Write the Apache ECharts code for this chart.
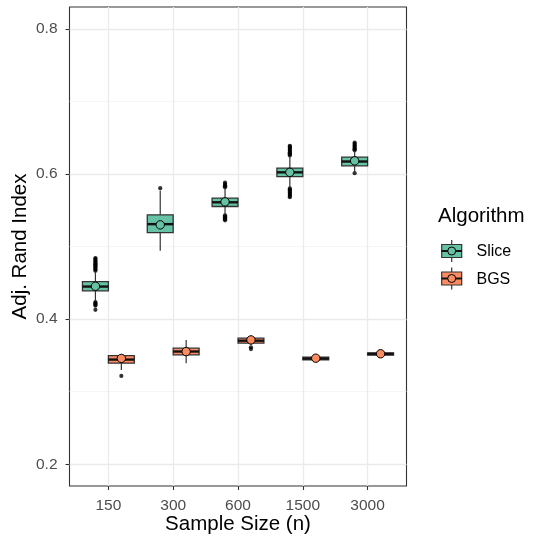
<!DOCTYPE html>
<html>
<head>
<meta charset="utf-8">
<script src="https://cdn.jsdelivr.net/npm/echarts@6/dist/echarts.min.js"></script>
<style>
  html, body { margin: 0; padding: 0; background: #ffffff; }
  #chart { width: 534px; height: 541px; }
</style>
</head>
<body>
<div id="chart"></div>
<script>
// Sample-size groups and algorithms
const categories = ['150', '300', '600', '1500', '3000'];
const algorithms = ['Slice', 'BGS'];
const yTicks = [0.2, 0.4, 0.6, 0.8];
const yMinorTicks = [0.3, 0.5, 0.7];

// Box statistics per group: [lower whisker, Q1, median, Q3, upper whisker]
const sliceStats = [
  [0.4250, 0.4389, 0.4448, 0.4517, 0.4650],
  [0.4940, 0.5192, 0.5308, 0.5436, 0.5770],
  [0.5445, 0.5551, 0.5609, 0.5666, 0.5804],
  [0.5815, 0.5964, 0.6022, 0.6080, 0.6240],
  [0.6033, 0.6112, 0.6171, 0.6232, 0.6309]
];
const sliceMeans = [0.4452, 0.5298, 0.5615, 0.6022, 0.6180];
const sliceOutliers = [
  [0.4665, 0.4680, 0.4695, 0.4710, 0.4725, 0.4740, 0.4755, 0.4770, 0.4785, 0.4800, 0.4815, 0.4830, 0.4840,
   0.4235, 0.4222, 0.4210, 0.4197, 0.4185, 0.4127],
  [0.5804],
  [0.5815, 0.5830, 0.5845, 0.5860, 0.5880,
   0.5430, 0.5417, 0.5403, 0.5390, 0.5375, 0.5360],
  [0.6255, 0.6270, 0.6285, 0.6300, 0.6315, 0.6330, 0.6345, 0.6360, 0.6375, 0.6387,
   0.5800, 0.5785, 0.5770, 0.5755, 0.5740, 0.5725, 0.5710, 0.5695, 0.5680],
  [0.6325, 0.6340, 0.6355, 0.6370, 0.6385, 0.6400, 0.6415, 0.6433, 0.6011]
];

const bgsStats = [
  [0.3300, 0.3392, 0.3442, 0.3497, 0.3505],
  [0.3392, 0.3507, 0.3553, 0.3599, 0.3713],
  [0.3640, 0.3668, 0.3702, 0.3737, 0.3755],
  [0.3417, 0.3438, 0.3456, 0.3475, 0.3500],
  [0.3495, 0.3505, 0.3520, 0.3535, 0.3545]
];
const bgsMeans = [0.3458, 0.3552, 0.3713, 0.3461, 0.3522];
const bgsOutliers = [[0.3217], [], [0.3612, 0.3587], [], []];

// Styling
const FONT = "'Liberation Sans', Arial, Helvetica, sans-serif";
const fills = ['#66C2A5', '#FC8D62'];
const dodge = [-0.2, 0.2];      // horizontal offset of each algorithm within a group
const BOX_WIDTH = 0.4;          // box width in category units
const EDGE = '#333333';

function boxRows(stats, means, offset) {
  return stats.map((s, i) => [i + offset].concat(s, [means[i]]));
}
function outlierRows(outliers, offset) {
  const rows = [];
  outliers.forEach((vals, i) => vals.forEach(v => rows.push([i + offset, v])));
  return rows;
}

function renderBox(fill) {
  return function (params, api) {
    const x = api.value(0);
    const lo = api.coord([x, api.value(1)]);
    const q1 = api.coord([x, api.value(2)]);
    const med = api.coord([x, api.value(3)]);
    const q3 = api.coord([x, api.value(4)]);
    const hi = api.coord([x, api.value(5)]);
    const mean = api.coord([x, api.value(6)]);
    const w = api.size([BOX_WIDTH, 0])[0];
    const cx = med[0];
    return {
      type: 'group',
      children: [
        { type: 'line', shape: { x1: cx, y1: q3[1], x2: cx, y2: hi[1] }, style: { stroke: EDGE, lineWidth: 1.2 } },
        { type: 'line', shape: { x1: cx, y1: q1[1], x2: cx, y2: lo[1] }, style: { stroke: EDGE, lineWidth: 1.2 } },
        { type: 'rect', shape: { x: cx - w / 2, y: q3[1], width: w, height: q1[1] - q3[1] },
          style: { fill: fill, stroke: EDGE, lineWidth: 1.3 } },
        { type: 'line', shape: { x1: cx - w / 2, y1: med[1], x2: cx + w / 2, y2: med[1] },
          style: { stroke: '#111111', lineWidth: 2.4 } },
        { type: 'circle', shape: { cx: cx, cy: mean[1], r: 4.2 },
          style: { fill: fill, stroke: '#000000', lineWidth: 1 }, z2: 10 }
      ]
    };
  };
}

const series = [];
const allStats = [sliceStats, bgsStats];
const allMeans = [sliceMeans, bgsMeans];
const allOutliers = [sliceOutliers, bgsOutliers];
algorithms.forEach((name, k) => {
  series.push({
    name: name + ' outliers',
    type: 'scatter',
    z: 2,
    symbol: 'circle',
    symbolSize: 4.2,
    itemStyle: { color: '#000000' },
    silent: true,
    data: outlierRows(allOutliers[k], dodge[k])
  });
  series.push({
    name: name,
    type: 'custom',
    z: 3,
    silent: true,
    renderItem: renderBox(fills[k]),
    encode: { x: 0, y: [1, 2, 3, 4, 5, 6] },
    data: boxRows(allStats[k], allMeans[k], dodge[k])
  });
});

// Legend drawn as ggplot-style boxplot keys
const legendGraphics = [{
  type: 'text', left: 438, top: 206,
  style: { text: 'Algorithm', fontSize: 20.5, fontFamily: FONT, fill: '#000000' }
}];
algorithms.forEach((name, k) => {
  const cx = 451.7, cy = 251 + k * 27.5;
  legendGraphics.push(
    { type: 'line', shape: { x1: cx, y1: cy - 11, x2: cx, y2: cy + 11 }, style: { stroke: EDGE, lineWidth: 1.2 } },
    { type: 'rect', shape: { x: cx - 10, y: cy - 6.5, width: 20, height: 13 }, style: { fill: fills[k], stroke: EDGE, lineWidth: 1.2 } },
    { type: 'line', shape: { x1: cx - 10, y1: cy, x2: cx + 10, y2: cy }, style: { stroke: '#111111', lineWidth: 2 } },
    { type: 'circle', shape: { cx: cx, cy: cy, r: 4 }, style: { fill: fills[k], stroke: '#000000', lineWidth: 1 } },
    { type: 'text', x: 476.5, y: cy + 1,
      style: { text: name, fontSize: 16, fontFamily: FONT, fill: '#000000', textVerticalAlign: 'middle', verticalAlign: 'middle' } }
  );
});

const chart = echarts.init(document.getElementById('chart'), null, { renderer: 'canvas' });
chart.setOption({
  animation: false,
  backgroundColor: '#ffffff',
  grid: {
    left: 69.5, right: 127.5, top: 7, bottom: 55,
    show: true, borderColor: EDGE, borderWidth: 1.1, backgroundColor: 'transparent',
    containLabel: false, outerBoundsMode: 'none'
  },
  xAxis: {
    type: 'value', min: -0.6, max: 4.6, position: 'bottom',
    axisLine: { show: false, onZero: false },
    axisTick: { show: true, inside: false, customValues: [0, 1, 2, 3, 4], length: 4, lineStyle: { color: EDGE, width: 1.1 } },
    axisLabel: {
      customValues: [0, 1, 2, 3, 4],
      formatter: v => categories[Math.round(v)],
      color: '#4D4D4D', fontSize: 15.5, fontFamily: FONT, margin: 12
    },
    splitLine: { show: true, lineStyle: { color: '#EBEBEB', width: 1.3 } },
    name: 'Sample Size (n)', nameLocation: 'middle', nameGap: 28, nameMoveOverlap: false,
    nameTextStyle: { fontSize: 20.5, fontFamily: FONT, color: '#000000' }
  },
  yAxis: [{
    type: 'value', min: 0.17, max: 0.83, position: 'left',
    axisLine: { show: false, onZero: false },
    axisTick: { show: true, inside: false, customValues: yTicks, length: 4, lineStyle: { color: EDGE, width: 1.1 } },
    axisLabel: {
      customValues: yTicks,
      formatter: v => v.toFixed(1),
      color: '#4D4D4D', fontSize: 15.5, fontFamily: FONT, margin: 12
    },
    splitLine: { show: true, lineStyle: { color: '#EBEBEB', width: 1.3 } },
    name: 'Adj. Rand Index', nameLocation: 'middle', nameGap: 39, nameMoveOverlap: false,
    nameTextStyle: { fontSize: 20.5, fontFamily: FONT, color: '#000000' }
  }, {
    type: 'value', min: 0.17, max: 0.83, position: 'left',
    axisLine: { show: false, onZero: false },
    axisTick: { show: false, customValues: yMinorTicks },
    axisLabel: { show: false, customValues: yMinorTicks },
    splitLine: { show: true, lineStyle: { color: '#F2F2F2', width: 0.7 } }
  }],
  series: series,
  graphic: legendGraphics
});
</script>
</body>
</html>
